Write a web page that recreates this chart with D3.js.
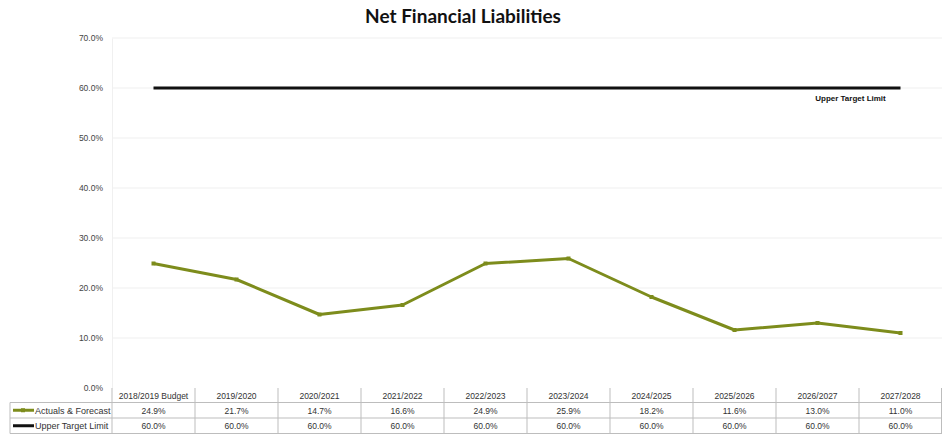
<!DOCTYPE html>
<html>
<head>
<meta charset="utf-8">
<script src="https://cdn.jsdelivr.net/npm/d3@7"></script>
<style>
  html, body { margin: 0; padding: 0; background: #fff; }
  svg { display: block; }
</style>
</head>
<body>
<svg id="chart" width="942" height="435"></svg>
<script>
// Net financial liabilities ratio, actuals and forecast against the target limit
const categories = ["2018/2019 Budget", "2019/2020", "2020/2021", "2021/2022", "2022/2023",
                    "2023/2024", "2024/2025", "2025/2026", "2026/2027", "2027/2028"];
const actuals = [24.9, 21.7, 14.7, 16.6, 24.9, 25.9, 18.2, 11.6, 13.0, 11.0];
const upperLimit = [60.0, 60.0, 60.0, 60.0, 60.0, 60.0, 60.0, 60.0, 60.0, 60.0];
const yTicks = [0, 10, 20, 30, 40, 50, 60, 70];
const seriesNames = ["Actuals & Forecast", "Upper Target Limit"];

const svg = d3.select("#chart");
const plotLeft = 112, plotRight = 942, plotTop = 38, plotBottom = 388;
const greenCol = "#7d8c1c", limitCol = "#111";

const x = d3.scaleBand().domain(categories).range([plotLeft, plotRight]);
const y = d3.scaleLinear().domain([0, 70]).range([plotBottom, plotTop]);

// title
svg.append("text")
  .attr("x", 463).attr("y", 23)
  .attr("text-anchor", "middle")
  .attr("font-family", "Lato, 'DejaVu Sans', sans-serif")
  .attr("font-weight", "bold")
  .attr("font-size", 19)
  .attr("fill", "#111")
  .text("Net Financial Liabilities");

// gridlines
svg.append("g").selectAll("line").data(yTicks.filter(d => d > 0)).join("line")
  .attr("x1", plotLeft).attr("x2", plotRight)
  .attr("y1", d => y(d)).attr("y2", d => y(d))
  .attr("stroke", "#efefef").attr("stroke-width", 1);

// y axis
const yAxis = d3.axisLeft(y).tickValues(yTicks).tickSize(0).tickPadding(9)
  .tickFormat(d => d.toFixed(1) + "%");
const ya = svg.append("g").attr("transform", `translate(${plotLeft},0)`).call(yAxis);
ya.select(".domain").attr("stroke", "#f0f0f0");
ya.selectAll("text")
  .attr("font-family", "Arial, 'Liberation Sans', sans-serif")
  .attr("font-size", 8.5).attr("fill", "#444");

// upper target limit line
const line = d3.line()
  .x((d, i) => x(categories[i]) + x.bandwidth() / 2)
  .y(d => y(d));

svg.append("path").datum(upperLimit)
  .attr("d", line).attr("fill", "none")
  .attr("stroke", limitCol).attr("stroke-width", 3);

svg.append("text")
  .attr("x", x(categories[categories.length - 1]) + x.bandwidth() / 2 - 50)
  .attr("y", y(upperLimit[upperLimit.length - 1]) + 13)
  .attr("text-anchor", "middle")
  .attr("font-family", "Arial, 'Liberation Sans', sans-serif")
  .attr("font-weight", "bold").attr("font-size", 8)
  .attr("fill", "#111")
  .text(seriesNames[1]);

// actuals & forecast line
svg.append("path").datum(actuals)
  .attr("d", line).attr("fill", "none")
  .attr("stroke", greenCol).attr("stroke-width", 3)
  .attr("stroke-linejoin", "round");

svg.append("g").selectAll("rect").data(actuals).join("rect")
  .attr("x", (d, i) => x(categories[i]) + x.bandwidth() / 2 - 2)
  .attr("y", d => y(d) - 2)
  .attr("width", 4).attr("height", 4)
  .attr("fill", greenCol);

// data table
const rowH = 15.5;
const r0 = plotBottom, r1 = plotBottom + 14.5, r2 = r1 + rowH, r3 = r2 + rowH;
const tableLeft = 10;
const tbl = svg.append("g");
const font = "Arial, 'Liberation Sans', sans-serif";

// horizontal rules
[r1, r2, r3].forEach(yy => {
  tbl.append("line").attr("x1", tableLeft).attr("x2", plotRight).attr("y1", yy).attr("y2", yy)
    .attr("stroke", "#bdbdbd").attr("stroke-width", 1);
});
// vertical rules
tbl.append("line").attr("x1", tableLeft).attr("x2", tableLeft).attr("y1", r1).attr("y2", r3)
  .attr("stroke", "#bdbdbd");
tbl.selectAll("line.v").data(categories).join("line").attr("class", "v")
  .attr("x1", d => x(d)).attr("x2", d => x(d))
  .attr("y1", r0).attr("y2", r3)
  .attr("stroke", "#bdbdbd");
tbl.append("line").attr("x1", plotRight - 0.5).attr("x2", plotRight - 0.5).attr("y1", r0).attr("y2", r3)
  .attr("stroke", "#bdbdbd");

// header row
tbl.selectAll("text.cat").data(categories).join("text").attr("class", "cat")
  .attr("x", d => x(d) + x.bandwidth() / 2).attr("y", r0 + 11)
  .attr("text-anchor", "middle").attr("font-family", font)
  .attr("font-size", 8.5).attr("fill", "#333")
  .text(d => d);

// value rows
[[actuals, r1], [upperLimit, r2]].forEach(([vals, ry]) => {
  tbl.append("g").selectAll("text").data(vals).join("text")
    .attr("x", (d, i) => x(categories[i]) + x.bandwidth() / 2).attr("y", ry + 11)
    .attr("text-anchor", "middle").attr("font-family", font)
    .attr("font-size", 8.5).attr("fill", "#333")
    .text(d => d.toFixed(1) + "%");
});

// legend keys
[[greenCol, r1, seriesNames[0], true], [limitCol, r2, seriesNames[1], false]].forEach(([c, ry, name, mark]) => {
  tbl.append("line").attr("x1", tableLeft + 3).attr("x2", tableLeft + 24)
    .attr("y1", ry + rowH / 2).attr("y2", ry + rowH / 2)
    .attr("stroke", c).attr("stroke-width", 3);
  if (mark) {
    tbl.append("rect").attr("x", tableLeft + 11).attr("y", ry + rowH / 2 - 2)
      .attr("width", 4).attr("height", 4).attr("fill", c);
  }
  tbl.append("text").attr("x", tableLeft + 25).attr("y", ry + 11)
    .attr("font-family", font).attr("font-size", 9).attr("fill", "#333")
    .text(name);
});
</script>
</body>
</html>
